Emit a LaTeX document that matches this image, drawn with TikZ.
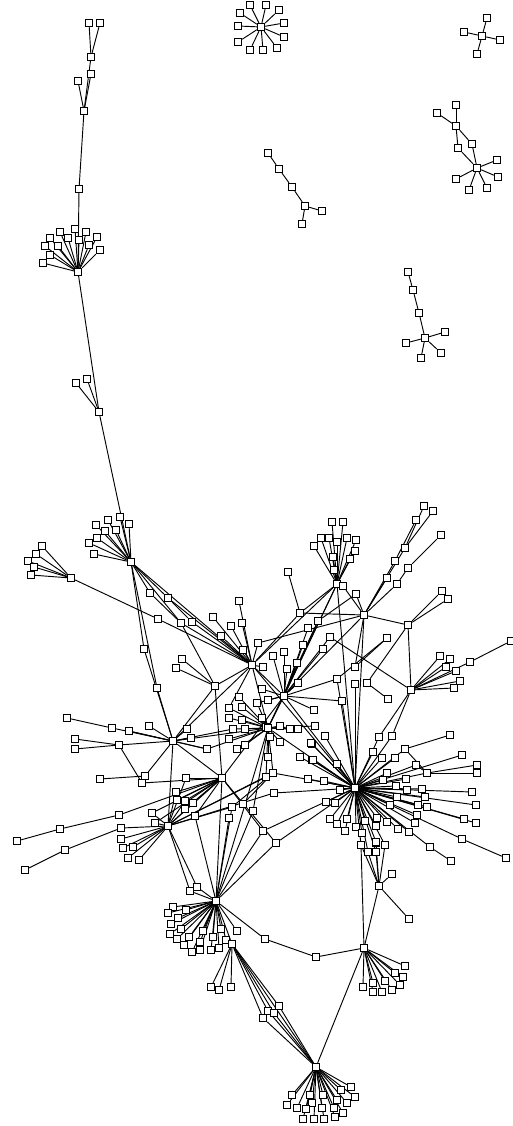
\documentclass[tikz,border=0pt]{standalone}
\pgfdeclarelayer{background}
\pgfsetlayers{background,main}
\tikzset{
  vx/.style={draw=black, fill=white, rectangle, minimum size=5.6pt, inner sep=0pt, line width=0.65pt},
  ed/.style={line width=0.7pt, black}
}
\newif\ifedgepass
\newcommand\fanout[3]{%
  \ifedgepass
    \foreach \xx/\yy in {#3}{\draw[ed] (n#1-#2) -- (n\xx-\yy);}%
  \else
    \node[vx] (n#1-#2) at (#1,#2) {};%
    \foreach \xx/\yy in {#3}{\node[vx] (n\xx-\yy) at (\xx,\yy) {};}%
  \fi}
\newcommand\ee[4]{%
  \ifedgepass
    \draw[ed] (n#1-#2) -- (n#3-#4);%
  \else
    \node[vx] (n#1-#2) at (#1,#2) {};%
    \node[vx] (n#3-#4) at (#3,#4) {};%
  \fi}
\newcommand\graphdata{%
\fanout{261}{27}{250/5,266/5,240/13,279/10,238/26,284/23,238/42,284/37,250/50,263/50,277/48}
\fanout{482}{36}{487/18,464/32,500/40,477/54}
\fanout{456}{126}{456/105,437/113,458/148,472/144}
\fanout{477}{168}{458/148,472/144,497/160,498/177,487/188,469/190,456/179}
\ee{268}{153}{279}{169}\ee{279}{169}{292}{187}\ee{292}{187}{305}{206}
\fanout{305}{206}{322/211,302/224}
\ee{408}{272}{413}{290}\ee{413}{290}{419}{313}
\fanout{425}{338}{419/313,445/332,441/353,421/358,406/343}
\fanout{91}{57}{89/23,100/23,84/111}
\fanout{84}{111}{91/74,78/81,79/189}
\fanout{78}{272}{79/189,60/232,75/229,86/232,50/238,68/238,79/240,97/237,45/246,58/246,89/245,100/250,50/255,43/263,99/412}
\fanout{99}{412}{76/383,87/379,131/562}
\fanout{131}{562}{120/517,129/524,108/520,96/525,105/531,116/530,97/538,89/543,94/554,150/593,168/598,181/623,144/649,157/688,252/665}
\fanout{71}{578}{42/546,36/554,28/561,34/567,31/575,158/619}
\ee{158}{619}{252}{665}
\ee{150}{593}{181}{623}
\ee{168}{598}{192}{622}
\fanout{252}{665}{168/598,181/623,192/622,239/601,213/617,231/626,242/623,221/636,258/643,243/650,263/667,284/696,268/728,337/584,300/613,173/741,229/708,355/788,215/686}
\fanout{215}{686}{182/659,176/668,181/623,222/778,173/741}
\fanout{284}{696}{273/656,284/652,303/645,297/663,287/669,262/689,298/683,337/679,342/701,314/710,268/728,337/584,364/615,355/788,308/628,318/621,330/637,323/649,257/703,268/700,222/778}
\fanout{268}{728}{229/708,242/707,239/697,229/718,242/720,233/729,245/729,229/739,237/749,245/745,207/749,257/703,262/718,280/726,290/729,298/729,315/726,270/737,280/742,268/757,266/727,273/773,355/788,337/584,216/901,173/741,318/621,266/777}
\fanout{337}{584}{332/522,343/522,321/538,329/538,337/542,347/538,356/540,314/546,355/551,333/557,350/559,334/570,343/586,355/788,300/613}
\fanout{364}{615}{356/594,300/613,408/625,355/667,355/788,387/578,397/584,395/561,405/548,258/643,343/586}
\ee{288}{572}{300}{613}
\ee{424}{506}{405}{548}\ee{433}{511}{405}{548}\ee{416}{520}{395}{561}\ee{441}{535}{408}{568}\ee{408}{568}{397}{584}
\ee{356}{594}{318}{621}
\fanout{408}{625}{442/591,448/599,367/683,411/690}
\ee{387}{638}{355}{667}\ee{337}{679}{387}{638}
\ee{367}{683}{388}{699}
\fanout{411}{690}{440/656,450/659,446/667,456/671,460/681,454/688,470/662,330/637,379/737,392/736}
\ee{470}{662}{511}{641}
\fanout{173}{741}{149/726,187/729,191/738,207/749,119/745,144/649,157/688,168/826,222/778,145/776,129/731,112/728,233/729}
\ee{112}{728}{67}{718}\ee{129}{731}{207}{749}\ee{100}{779}{145}{776}
\fanout{119}{745}{75/739,75/749,142/783}
\fanout{222}{778}{186/778,176/792,177/800,185/801,193/803,185/809,195/816,152/813,155/823,168/826,142/783,216/901,276/843,263/831,119/815}
\ee{60}{829}{17}{841}\ee{60}{829}{119}{815}\ee{65}{850}{25}{870}\ee{65}{850}{121}{828}
\fanout{168}{826}{176/792,185/801,193/803,186/778,121/828,121/839,123/848,133/847,128/858,139/860,152/813,155/823,190/891,197/887,266/777,273/773,232/807,274/793}
\ee{232}{807}{273}{773}\ee{243}{804}{273}{773}\ee{253}{811}{268}{728}
\fanout{216}{901}{173/907,168/913,186/910,178/918,171/924,181/929,170/934,177/939,189/937,184/945,192/952,200/950,200/942,203/931,213/937,211/950,219/948,221/929,226/940,237/931,190/891,197/887,232/944,265/939,229/818,263/831,276/843,232/807,195/816,253/811}
\fanout{232}{944}{211/987,219/990,231/987,279/1006,268/1011,274/1013,263/1018,316/1067}
\fanout{316}{1067}{279/1006,268/1011,274/1013,263/1018,364/948,292/1095,287/1105,297/1108,310/1095,312/1103,306/1109,303/1119,314/1119,324/1119,322/1108,323/1095,334/1108,335/1117,343/1113,347/1103,337/1100,341/1090,351/1087,355/1097}
\fanout{364}{948}{316/957,379/886,361/845,405/966,395/973,403/977,385/981,400/985,373/983,363/987,373/992,382/992,392/990}
\ee{316}{957}{265}{939}
\fanout{379}{886}{409/919,392/874,361/845,368/852,376/852,376/843,385/845}
\fanout{355}{788}{405/749,462/755,427/773,416/765,395/758,382/758,472/792,422/789,425/797,476/805,418/805,427/807,464/819,476/823,417/815,415/823,462/839,430/847,409/832,398/829,406/779,407/790,397/797,387/773,390/805,387/822,377/818,376/826,365/821,356/827,347/819,337/824,330/819,345/831,362/833,361/845,376/842,385/845,368/852,376/852,373/752,383/780,396/786,312/744,312/760,337/764,324/781,308/779,326/802,335/803,340/790,300/757,313/760,311/743,325/736,274/793,263/831,276/843,379/737,392/736,355/684,342/701,337/679,273/773}
\fanout{427}{773}{477/765,477/773,405/749,416/765}
\ee{405}{749}{450}{735}
\ee{462}{839}{506}{858}\ee{430}{847}{451}{861}
}
\begin{document}
\begin{tikzpicture}[x=0.75pt,y=-0.75pt]
\useasboundingbox (0,0) rectangle (513,1126);
\edgepassfalse
\graphdata
\begin{pgfonlayer}{background}
\edgepasstrue
\graphdata
\end{pgfonlayer}
\end{tikzpicture}
\end{document}
